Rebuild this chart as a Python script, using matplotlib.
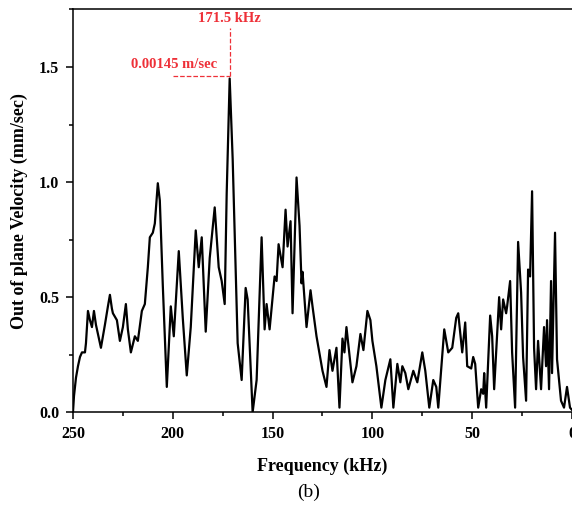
import matplotlib

matplotlib.use("Agg")
import matplotlib.pyplot as plt
from matplotlib.ticker import MultipleLocator

# Out-of-plane velocity spectrum (mm/sec) against frequency (kHz)
freq_khz = [
    250, 249.5, 248.5, 247.5, 246.5, 245.5, 244, 243.5, 242.5, 241.5, 240.5, 239.5, 238.5, 238, 237, 236, 235, 234,
    232.5, 231.5, 230.5, 230, 228, 226.5, 225, 223.5, 222.5, 221, 219, 217.5, 215.5, 214, 212.5, 211.5,
    210, 209, 207.5, 206.5, 205, 203, 201, 199.5, 197, 195, 193, 191, 188.5, 187,
    185.5, 183.5, 181.5, 179, 177, 175.5, 174, 173, 171.5, 170, 167.5, 165.5,
    163.5, 162.5, 160, 158, 155.5, 154, 153, 151.5, 149, 148, 147, 145,
    143.5, 142.5, 141, 140, 138, 136.5, 135.5, 135, 133, 131, 130, 128,
    127, 125, 123, 121.5, 120, 118, 116.5, 115, 114, 113, 110, 108, 106,
    104.5, 102.5, 101, 100, 98, 95.5, 93.5, 91, 89.5, 87.5, 86, 85, 83.5,
    82, 79.5, 77.5, 75, 73.5, 71.5, 69.5, 68, 67, 64, 62, 60, 58, 57, 55,
    53.5, 52.5, 50.5, 49.5, 48.5, 47, 45.5, 44.5, 44, 43, 41, 40, 39,
    36.5, 35.5, 34.5, 33, 32.5, 31, 30, 28.5, 27, 25.5, 24.5, 23, 22, 21,
    20, 19, 18, 17, 15.5, 14, 13, 12.5, 11.5, 10.5, 10, 8.5, 7.5, 5.5, 4,
    2.5, 1, 0,
]
velocity = [
    0.0, 0.07, 0.15, 0.20, 0.24, 0.26, 0.26, 0.30, 0.44, 0.40, 0.37, 0.44, 0.38, 0.36, 0.32, 0.28, 0.33, 0.38,
    0.46, 0.51, 0.45, 0.43, 0.40, 0.31, 0.37, 0.47, 0.36, 0.26, 0.33, 0.31, 0.44, 0.47, 0.63, 0.76,
    0.78, 0.82, 0.995, 0.92, 0.55, 0.11, 0.46, 0.33, 0.70, 0.41, 0.16, 0.37, 0.79, 0.63,
    0.76, 0.35, 0.67, 0.89, 0.63, 0.57, 0.47, 0.95, 1.45, 1.10, 0.30, 0.14,
    0.54, 0.49, 0.0, 0.14, 0.76, 0.36, 0.47, 0.36, 0.59, 0.57, 0.73, 0.63,
    0.88, 0.72, 0.83, 0.43, 1.02, 0.81, 0.56, 0.61, 0.37, 0.53, 0.46, 0.33,
    0.28, 0.18, 0.11, 0.27, 0.18, 0.28, 0.02, 0.32, 0.26, 0.37, 0.13, 0.20, 0.34,
    0.27, 0.44, 0.40, 0.31, 0.20, 0.02, 0.14, 0.23, 0.02, 0.21, 0.13, 0.20, 0.17,
    0.10, 0.18, 0.13, 0.26, 0.18, 0.02, 0.14, 0.11, 0.02, 0.36, 0.26, 0.28, 0.41, 0.43, 0.26,
    0.39, 0.20, 0.19, 0.24, 0.21, 0.02, 0.10, 0.08, 0.17, 0.02, 0.42, 0.33, 0.10,
    0.50, 0.36, 0.49, 0.43, 0.46, 0.57, 0.26, 0.02, 0.74, 0.52, 0.24, 0.05, 0.62, 0.59,
    0.96, 0.28, 0.10, 0.31, 0.10, 0.37, 0.20, 0.40, 0.10, 0.57, 0.17, 0.78, 0.23, 0.05, 0.02,
    0.11, 0.02, 0.01,
]

peak_freq = 171.5
peak_vel = 1.46
peak_freq_label = "171.5 kHz"
peak_vel_label = "0.00145 m/sec"

plt.rcParams["font.family"] = ["Liberation Serif", "DejaVu Serif"]
red = "#ee3038"

fig = plt.figure(figsize=(5.72, 5.14), dpi=100)
ax = fig.add_axes([0.1276, 0.198, 0.8724, 0.7845])

ax.plot(freq_khz, velocity, color="black", linewidth=1.6)

# dashed guides to the main peak
ax.plot([peak_freq, peak_freq], [peak_vel, 1.67], color=red, linestyle="--", linewidth=0.9)
ax.plot([200, peak_freq], [peak_vel, peak_vel], color=red, linestyle="--", linewidth=0.9)
ax.text(peak_freq, 1.71, peak_freq_label, color=red, fontsize=10.5, fontweight="bold",
        ha="center", va="center")
ax.text(199.5, 1.51, peak_vel_label, color=red, fontsize=10.5, fontweight="bold",
        ha="center", va="center")

ax.set_xlim(250, 0)
ax.set_ylim(0, 1.752)
ax.xaxis.set_major_locator(MultipleLocator(50))
ax.xaxis.set_minor_locator(MultipleLocator(25))
ax.yaxis.set_major_locator(MultipleLocator(0.5))
ax.yaxis.set_minor_locator(MultipleLocator(0.25))
ax.yaxis.set_major_formatter(matplotlib.ticker.FormatStrFormatter("%.1f"))

ax.tick_params(which="major", direction="out", length=5, width=1.1, labelsize=11.5, pad=5)
ax.tick_params(which="minor", direction="out", length=3, width=1.1)
for lbl in ax.get_xticklabels() + ax.get_yticklabels():
    lbl.set_fontweight("bold")

ax.spines["right"].set_visible(False)
for side in ("left", "bottom", "top"):
    ax.spines[side].set_linewidth(1.1)

ax.set_xlabel("Frequency (kHz)", fontsize=13, fontweight="bold", labelpad=11)
ax.set_ylabel("Out of plane Velocity (mm/sec)", fontsize=13, fontweight="bold", labelpad=8)

fig.text(0.54, 0.043, "(b)", fontsize=14, ha="center", va="center")

fig.savefig("out.png", dpi=100)
